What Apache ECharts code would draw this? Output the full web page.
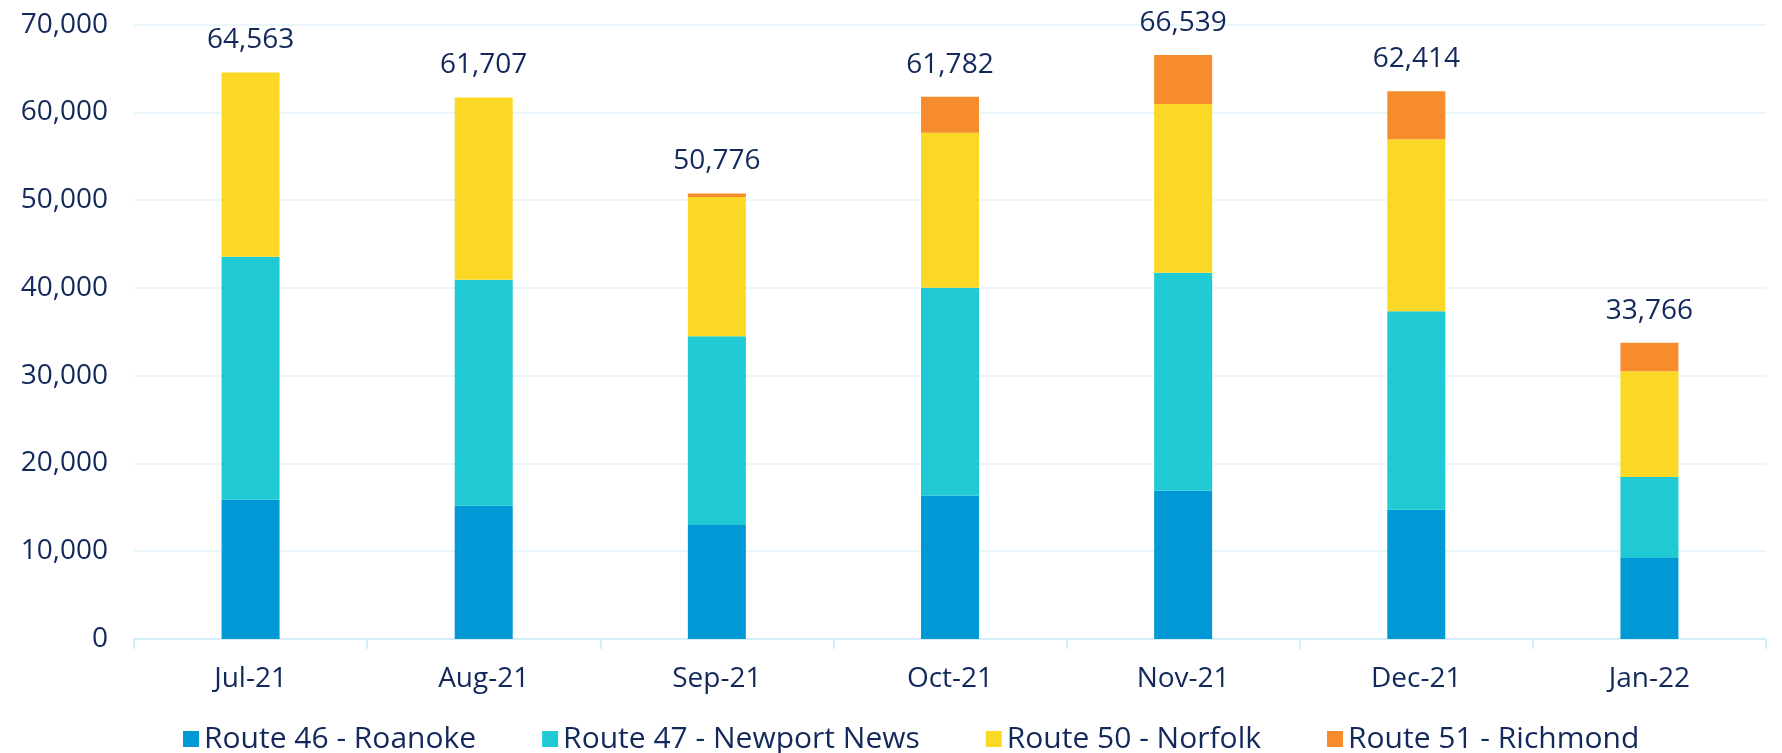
<!DOCTYPE html>
<html>
<head>
<meta charset="utf-8">
<script src="https://cdn.jsdelivr.net/npm/echarts@6/dist/echarts.min.js"></script>
<style>
html,body{margin:0;padding:0;background:#fff;}
#chart{width:1782px;height:753px;}
</style>
</head>
<body>
<div id="chart"></div>
<script>
const categories = ['Jul-21','Aug-21','Sep-21','Oct-21','Nov-21','Dec-21','Jan-22'];
const route46 = [15870, 15190, 12990, 16330, 16900, 14730, 9230];
const route47 = [27690, 25750, 21500, 23700, 24840, 22610, 9230];
const route50 = [21003, 20767, 15875, 17660, 19220, 19600, 12040];
const route51 = [0, 0, 411, 4092, 5579, 5474, 3266];
const totals  = [64563, 61707, 50776, 61782, 66539, 62414, 33766];
const seriesNames = ['Route 46 - Roanoke','Route 47 - Newport News','Route 50 - Norfolk','Route 51 - Richmond'];
const yTicks = [0, 10000, 20000, 30000, 40000, 50000, 60000, 70000];

const textColor = '#13295b';
const fontFamily = "'Open Sans', 'Liberation Sans', sans-serif";
const colors = ['#0099d5', '#1fcad4', '#fcd826', '#f68c2c'];

const chart = echarts.init(document.getElementById('chart'));
const fmt = v => v.toLocaleString('en-US');

function mk(name, data, idx, withLabel) {
  const s = {
    name: name,
    type: 'bar',
    stack: 'total',
    data: data,
    barWidth: 58,
    itemStyle: { color: colors[idx] },
    emphasis: { disabled: true }
  };
  if (withLabel) {
    s.label = {
      show: true,
      position: 'top',
      distance: 18,
      color: textColor,
      fontFamily: fontFamily,
      fontSize: 28,
      formatter: p => fmt(totals[p.dataIndex])
    };
  }
  return s;
}

chart.setOption({
  animation: false,
  backgroundColor: '#ffffff',
  color: colors,
  grid: { left: 134, right: 16, top: 24.7, bottom: 114, containLabel: false },
  legend: {
    top: 719,
    left: 178,
    itemWidth: 16,
    itemHeight: 16,
    itemGap: 66,
    icon: 'rect',
    textStyle: { color: textColor, fontFamily: fontFamily, fontSize: 30 },
    data: seriesNames
  },
  xAxis: {
    type: 'category',
    data: categories,
    axisLine: { lineStyle: { color: '#d6eefa', width: 2 } },
    axisTick: { show: true, length: 10, lineStyle: { color: '#d6eefa', width: 2 } },
    axisLabel: { color: textColor, fontFamily: fontFamily, fontSize: 28, margin: 26 }
  },
  yAxis: {
    type: 'value',
    min: yTicks[0],
    max: yTicks[yTicks.length - 1],
    interval: yTicks[1] - yTicks[0],
    axisLine: { show: false },
    axisTick: { show: false },
    splitLine: { lineStyle: { color: '#e2f4fc', width: 1.5 } },
    axisLabel: { color: textColor, fontFamily: fontFamily, fontSize: 28, margin: 26, formatter: v => fmt(v) }
  },
  series: [
    mk(seriesNames[0], route46, 0, false),
    mk(seriesNames[1], route47, 1, false),
    mk(seriesNames[2], route50, 2, false),
    mk(seriesNames[3], route51, 3, true)
  ]
});
</script>
</body>
</html>
